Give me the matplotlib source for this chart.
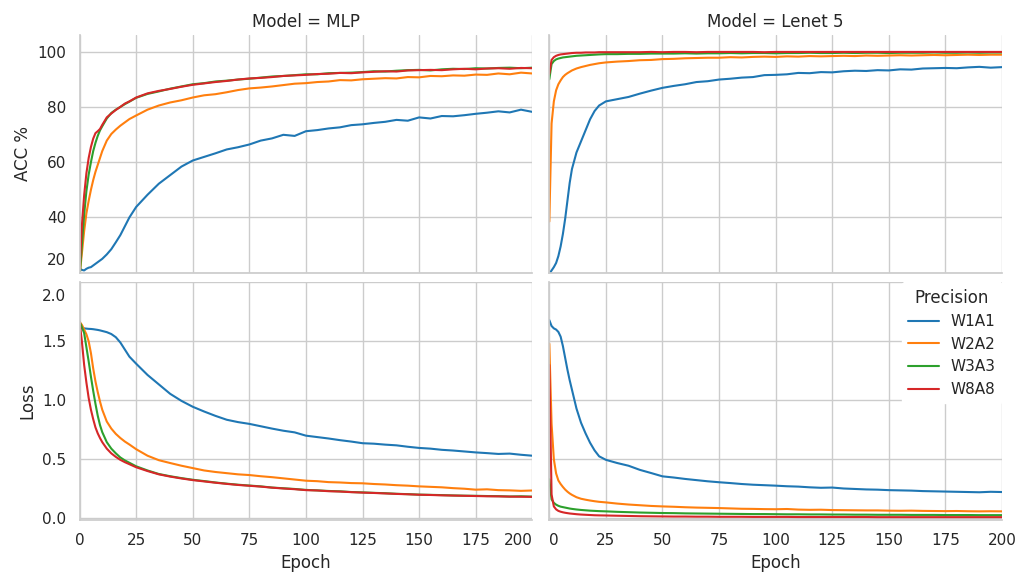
import matplotlib
matplotlib.use("Agg")
import matplotlib.pyplot as plt                      # noqa: E402
from matplotlib.transforms import ScaledTranslation  # noqa: E402
import seaborn as sns                                # noqa: E402

EPOCHS = [0, 1, 2, 3, 4, 5, 6, 7, 8, 9, 10, 12, 14, 16, 18, 20, 22, 25,
          30, 35, 40, 45, 50, 55, 60, 65, 70, 75, 80, 85, 90, 95, 100, 105, 110,
          115, 120, 125, 130, 135, 140, 145, 150, 155, 160, 165, 170, 175, 180,
          185, 190, 195, 200]
PRECISIONS = ["W1A1", "W2A2", "W3A3", "W8A8"]
MODELS = ["MLP", "Lenet 5"]

# accuracy (%)
mlp_acc_w1a1 = [21.5, 21.0, 20.8, 21.4, 21.8, 22.0, 22.6, 23.2, 23.8, 24.4, 25.0, 26.6, 28.5, 31.0, 33.6, 36.8, 40.0, 43.8,
                48.2, 52.2, 55.3, 58.4, 60.6, 61.9, 63.2, 64.6, 65.4, 66.4, 67.8, 68.6, 69.9, 69.5, 71.2, 71.6, 72.2,
                72.6, 73.4, 73.7, 74.2, 74.6, 75.3, 75.0, 76.2, 75.8, 76.7, 76.6, 77.0, 77.5, 77.9, 78.4, 78.0, 79.0, 78.2]
mlp_acc_w2a2 = [19.0, 27.0, 35.0, 41.5, 46.0, 50.0, 53.5, 56.5, 59.0, 61.5, 64.0, 67.8, 70.2, 71.8, 73.2, 74.4, 75.6, 76.9,
                79.0, 80.5, 81.6, 82.4, 83.4, 84.2, 84.6, 85.3, 86.1, 86.7, 87.0, 87.4, 87.9, 88.4, 88.6, 89.0, 89.2,
                89.7, 89.6, 90.0, 90.2, 90.4, 90.3, 90.8, 90.7, 91.2, 91.1, 91.4, 91.3, 91.7, 91.6, 92.1, 91.8, 92.4, 92.1]
mlp_acc_w3a3 = [18.5, 30.0, 41.0, 49.5, 55.5, 60.0, 64.0, 67.0, 69.5, 71.5, 73.0, 75.8, 77.8, 79.0, 80.0, 81.0, 81.9, 83.3,
                84.7, 85.6, 86.6, 87.4, 88.2, 88.6, 89.2, 89.5, 89.9, 90.2, 90.6, 91.0, 91.2, 91.5, 91.8, 91.8, 92.2,
                92.3, 92.4, 92.6, 92.9, 92.8, 93.1, 93.3, 93.4, 93.2, 93.6, 93.8, 93.7, 94.0, 93.9, 94.1, 94.2, 94.0, 94.2]
mlp_acc_w8a8 = [21.0, 37.0, 48.0, 56.0, 61.5, 65.5, 68.5, 70.5, 71.2, 72.0, 73.5, 76.2, 77.6, 78.9, 80.0, 81.2, 82.0, 83.4,
                84.9, 85.8, 86.5, 87.3, 88.0, 88.5, 89.0, 89.4, 89.9, 90.3, 90.5, 90.8, 91.2, 91.4, 91.6, 91.9, 92.0,
                92.3, 92.2, 92.5, 92.7, 92.9, 92.8, 93.2, 93.3, 93.4, 93.3, 93.6, 93.8, 93.6, 93.9, 94.0, 93.8, 94.1, 94.0]
lenet_acc_w1a1 = [19.5, 20.8, 22.0, 23.5, 26.0, 29.5, 34.0, 39.5, 46.0, 52.5, 57.5, 63.5, 67.5, 71.5, 75.5, 78.5, 80.5, 82.0,
                  82.8, 83.6, 84.8, 85.9, 86.9, 87.6, 88.2, 89.0, 89.3, 89.9, 90.2, 90.6, 90.8, 91.5, 91.6, 91.8, 92.3,
                  92.2, 92.6, 92.5, 92.9, 93.1, 93.0, 93.3, 93.2, 93.6, 93.5, 93.9, 94.0, 94.1, 94.0, 94.3, 94.5, 94.2, 94.4]
lenet_acc_w2a2 = [38.5, 74.0, 82.0, 86.0, 88.2, 89.6, 90.8, 91.6, 92.2, 92.7, 93.2, 93.9, 94.4, 94.8, 95.2, 95.5, 95.8, 96.1,
                  96.4, 96.6, 96.9, 97.0, 97.3, 97.4, 97.6, 97.7, 97.8, 97.8, 98.0, 97.9, 98.1, 98.2, 98.1, 98.3, 98.2,
                  98.4, 98.3, 98.4, 98.5, 98.4, 98.6, 98.5, 98.6, 98.7, 98.6, 98.7, 98.8, 98.7, 98.8, 98.9, 98.8, 98.9, 98.9]
lenet_acc_w3a3 = [90.0, 95.5, 96.6, 97.2, 97.5, 97.7, 97.9, 98.0, 98.1, 98.2, 98.3, 98.5, 98.6, 98.7, 98.8, 98.9, 99.0, 99.1,
                  99.1, 99.2, 99.2, 99.3, 99.3, 99.3, 99.4, 99.3, 99.4, 99.4, 99.5, 99.4, 99.5, 99.5, 99.4, 99.5, 99.5,
                  99.6, 99.5, 99.5, 99.6, 99.5, 99.6, 99.6, 99.5, 99.6, 99.6, 99.6, 99.7, 99.6, 99.6, 99.7, 99.6, 99.7, 99.7]
lenet_acc_w8a8 = [92.0, 97.0, 98.0, 98.5, 98.8, 99.0, 99.1, 99.2, 99.3, 99.4, 99.5, 99.6, 99.6, 99.7, 99.7, 99.7, 99.8, 99.8,
                  99.8, 99.8, 99.8, 99.9, 99.8, 99.9, 99.9, 99.8, 99.9, 99.9, 99.9, 99.9, 99.9, 99.8, 99.9, 99.9, 99.9,
                  99.9, 99.9, 99.9, 99.9, 99.9, 99.9, 99.9, 99.9, 99.9, 99.9, 99.9, 99.9, 99.9, 99.9, 99.9, 99.9, 99.9, 99.9]

# loss
mlp_loss_w1a1 = [1.615, 1.610, 1.610, 1.608, 1.606, 1.605, 1.603, 1.600, 1.597, 1.593, 1.588, 1.578, 1.562, 1.535, 1.490, 1.430, 1.370, 1.310,
                 1.215, 1.135, 1.055, 0.995, 0.945, 0.905, 0.868, 0.835, 0.815, 0.800, 0.780, 0.760, 0.742, 0.728, 0.700, 0.688, 0.676,
                 0.662, 0.650, 0.636, 0.632, 0.624, 0.618, 0.606, 0.596, 0.590, 0.580, 0.574, 0.566, 0.558, 0.552, 0.545, 0.548, 0.538, 0.530]
mlp_loss_w2a2 = [1.665, 1.64, 1.60, 1.56, 1.50, 1.40, 1.27, 1.16, 1.07, 0.99, 0.92, 0.82, 0.76, 0.715, 0.680, 0.650, 0.625, 0.585,
                 0.530, 0.492, 0.468, 0.445, 0.425, 0.405, 0.392, 0.382, 0.372, 0.366, 0.356, 0.348, 0.338, 0.328, 0.318, 0.314, 0.306,
                 0.303, 0.298, 0.296, 0.290, 0.286, 0.280, 0.276, 0.270, 0.266, 0.262, 0.255, 0.250, 0.242, 0.245, 0.238, 0.236, 0.232, 0.235]
mlp_loss_w3a3 = [1.665, 1.62, 1.57, 1.45, 1.33, 1.20, 1.08, 0.97, 0.87, 0.79, 0.73, 0.645, 0.590, 0.550, 0.515, 0.490, 0.470, 0.440,
                 0.405, 0.375, 0.356, 0.340, 0.326, 0.315, 0.303, 0.293, 0.284, 0.277, 0.270, 0.260, 0.254, 0.248, 0.240, 0.236, 0.231,
                 0.228, 0.222, 0.219, 0.215, 0.212, 0.207, 0.204, 0.200, 0.198, 0.196, 0.193, 0.191, 0.190, 0.188, 0.187, 0.184, 0.186, 0.183]
mlp_loss_w8a8 = [1.665, 1.50, 1.30, 1.15, 1.02, 0.92, 0.84, 0.77, 0.72, 0.68, 0.645, 0.590, 0.550, 0.520, 0.495, 0.475, 0.458, 0.432,
                 0.400, 0.372, 0.353, 0.337, 0.323, 0.312, 0.301, 0.291, 0.282, 0.275, 0.268, 0.259, 0.252, 0.246, 0.238, 0.235, 0.229,
                 0.226, 0.221, 0.217, 0.214, 0.210, 0.206, 0.203, 0.199, 0.197, 0.194, 0.192, 0.190, 0.188, 0.186, 0.185, 0.183, 0.182, 0.181]
lenet_loss_w1a1 = [1.68, 1.63, 1.61, 1.60, 1.58, 1.54, 1.46, 1.36, 1.26, 1.17, 1.09, 0.93, 0.81, 0.72, 0.64, 0.575, 0.525, 0.495,
                   0.468, 0.445, 0.410, 0.383, 0.355, 0.345, 0.333, 0.323, 0.313, 0.305, 0.298, 0.290, 0.284, 0.280, 0.276, 0.271, 0.268,
                   0.262, 0.258, 0.260, 0.252, 0.248, 0.244, 0.242, 0.238, 0.236, 0.234, 0.230, 0.228, 0.226, 0.224, 0.222, 0.220, 0.224, 0.222]
lenet_loss_w2a2 = [1.48, 0.80, 0.50, 0.38, 0.32, 0.29, 0.265, 0.243, 0.225, 0.210, 0.198, 0.178, 0.165, 0.157, 0.150, 0.144, 0.139, 0.134,
                   0.124, 0.116, 0.110, 0.104, 0.100, 0.097, 0.093, 0.090, 0.088, 0.086, 0.083, 0.080, 0.079, 0.077, 0.076, 0.078, 0.073,
                   0.071, 0.072, 0.069, 0.068, 0.067, 0.066, 0.066, 0.064, 0.063, 0.064, 0.062, 0.061, 0.060, 0.061, 0.059, 0.058, 0.059, 0.058]
lenet_loss_w3a3 = [0.33, 0.16, 0.13, 0.115, 0.105, 0.098, 0.094, 0.090, 0.086, 0.082, 0.079, 0.074, 0.070, 0.067, 0.064, 0.062, 0.060, 0.058,
                   0.054, 0.051, 0.048, 0.046, 0.044, 0.043, 0.041, 0.040, 0.039, 0.038, 0.037, 0.036, 0.035, 0.035, 0.034, 0.033, 0.033,
                   0.032, 0.032, 0.031, 0.031, 0.030, 0.030, 0.029, 0.029, 0.029, 0.028, 0.028, 0.028, 0.027, 0.027, 0.027, 0.026, 0.026, 0.026]
lenet_loss_w8a8 = [1.30, 0.20, 0.10, 0.075, 0.062, 0.055, 0.050, 0.046, 0.043, 0.040, 0.038, 0.034, 0.031, 0.029, 0.027, 0.025, 0.024, 0.023,
                   0.021, 0.019, 0.017, 0.016, 0.015, 0.014, 0.014, 0.013, 0.013, 0.012, 0.012, 0.012, 0.011, 0.011, 0.011, 0.011, 0.010,
                   0.010, 0.010, 0.010, 0.010, 0.010, 0.010, 0.009, 0.009, 0.009, 0.009, 0.009, 0.009, 0.009, 0.009, 0.009, 0.009, 0.009, 0.009]

ACC = {"MLP": [mlp_acc_w1a1, mlp_acc_w2a2, mlp_acc_w3a3, mlp_acc_w8a8],
       "Lenet 5": [lenet_acc_w1a1, lenet_acc_w2a2, lenet_acc_w3a3, lenet_acc_w8a8]}
LOSS = {"MLP": [mlp_loss_w1a1, mlp_loss_w2a2, mlp_loss_w3a3, mlp_loss_w8a8],
        "Lenet 5": [lenet_loss_w1a1, lenet_loss_w2a2, lenet_loss_w3a3, lenet_loss_w8a8]}

sns.set_theme(style="whitegrid")
plt.rcParams["font.family"] = ["DejaVu Sans"]
colors = sns.color_palette("tab10")

fig, axes = plt.subplots(2, 2, figsize=(10.26, 5.75), dpi=100, sharex=True, sharey="row")
fig.subplots_adjust(left=0.0776, right=0.9766, top=0.939, bottom=0.0957,
                    wspace=0.0376, hspace=0.041)

for j, model in enumerate(MODELS):
    for k, prec in enumerate(PRECISIONS):
        axes[0, j].plot(EPOCHS, ACC[model][k], color=colors[k], lw=1.5, label=prec)
        axes[1, j].plot(EPOCHS, LOSS[model][k], color=colors[k], lw=1.5, label=prec)
    axes[0, j].set_title(f"Model = {model}")
    axes[1, j].set_xlabel("Epoch")

sns.despine(fig)

axes[0, 0].set_xlim(0, 200)
axes[0, 0].set_xticks([0, 25, 50, 75, 100, 125, 150, 175, 200])
axes[0, 0].set_ylim(20, 106)
axes[0, 0].set_yticks([20, 40, 60, 80, 100])
axes[1, 0].set_ylim(-0.015, 2.0)
axes[1, 0].set_yticks([0.0, 0.5, 1.0, 1.5, 2.0])
axes[0, 0].set_ylabel("ACC %")
axes[1, 0].set_ylabel("Loss")


def nudge(label, dx_px, dy_px):
    label.set_transform(label.get_transform()
                        + ScaledTranslation(dx_px / 100, dy_px / 100, fig.dpi_scale_trans))


# keep edge tick labels from colliding between neighbouring panels
nudge(axes[0, 0].yaxis.get_major_ticks()[0].label1, 0, 14)
nudge(axes[1, 0].yaxis.get_major_ticks()[-1].label1, 0, -13)
axes[1, 0].xaxis.get_major_ticks()[-1].label1.set_horizontalalignment("right")
axes[1, 1].xaxis.get_major_ticks()[0].label1.set_horizontalalignment("left")

leg = axes[1, 1].legend(title="Precision", loc="upper right", bbox_to_anchor=(1.0, 1.0),
                        borderaxespad=0.0, frameon=True, framealpha=1.0)
leg.get_frame().set_edgecolor("white")
leg.get_frame().set_facecolor("white")

fig.savefig("out.png", dpi=100)
